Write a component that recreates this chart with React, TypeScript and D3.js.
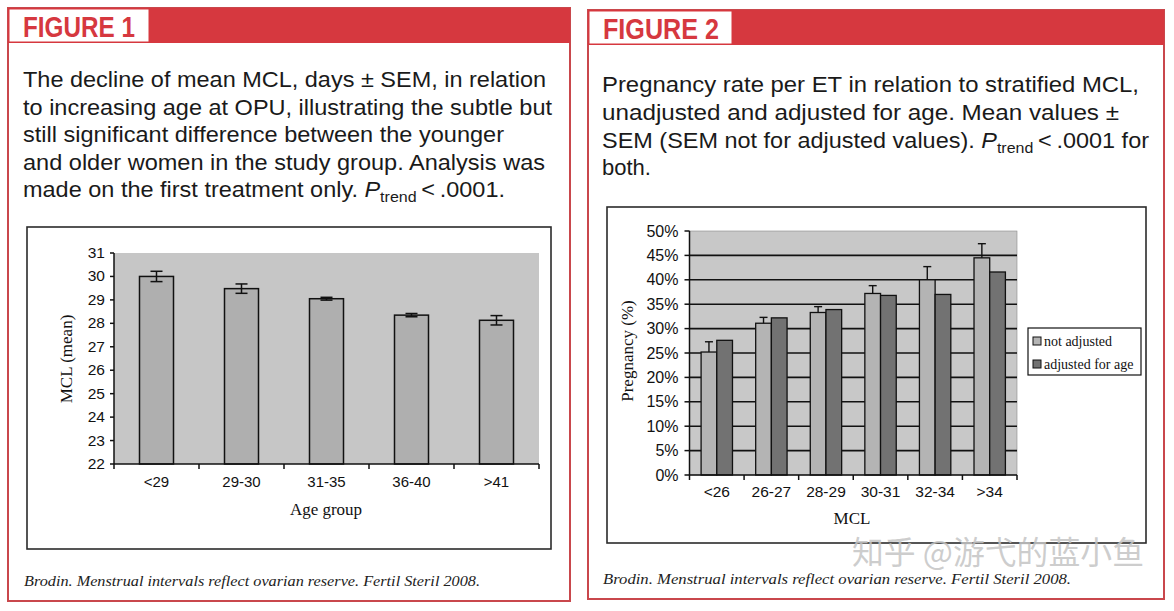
import React from 'react';
import * as d3 from 'd3';

// ---------- Data ----------
const fig1Caption = [
  'The decline of mean MCL, days \u00b1 SEM, in relation',
  'to increasing age at OPU, illustrating the subtle but',
  'still significant difference between the younger',
  'and older women in the study group. Analysis was',
  'made on the first treatment only. {P}\u2009<\u2009.0001.',
];
const fig2Caption = [
  'Pregnancy rate per ET in relation to stratified MCL,',
  'unadjusted and adjusted for age. Mean values \u00b1',
  'SEM (SEM not for adjusted values). {P}\u2009<\u2009.0001 for',
  'both.',
];
const footerText = 'Brodin. Menstrual intervals reflect ovarian reserve. Fertil Steril 2008.';
const watermark = '知乎 @游弋的蓝小鱼';

const ageGroups = ['<29', '29-30', '31-35', '36-40', '>41'];
const mclMean = [30.0, 29.48, 29.05, 28.35, 28.13];
const mclSem = [0.22, 0.2, 0.06, 0.07, 0.2];

const mclGroups = ['<26', '26-27', '28-29', '30-31', '32-34', '>34'];
const notAdjusted = [0.252, 0.311, 0.333, 0.372, 0.4, 0.445];
const adjustedForAge = [0.276, 0.322, 0.339, 0.368, 0.37, 0.416];
const notAdjustedSem = [0.021, 0.012, 0.012, 0.016, 0.027, 0.029];
const seriesNames = ['not adjusted', 'adjusted for age'];

// ---------- Styles ----------
const RED = '#d6383f';
const BORDER = '#c9474c';
const SANS = '"Liberation Sans", Arial, sans-serif';
const NARROW = '"Liberation Sans Narrow", "Liberation Sans", Arial, sans-serif';
const SERIF = '"Liberation Serif", "Times New Roman", serif';

function Caption({ lines, x, y0, dy, widths }: { lines: string[]; x: number; y0: number; dy: number; widths: number[] }) {
  return (
    <g fontFamily={SANS} fontSize={22} fill="#1a1a1a">
      {lines.map((ln, i) => {
        const parts = ln.split('{P}');
        const y = y0 + i * dy;
        if (parts.length === 1) {
          return (
            <text key={i} x={x} y={y} textLength={widths[i]} lengthAdjust="spacingAndGlyphs">
              {ln}
            </text>
          );
        }
        return (
          <text key={i} x={x} y={y} textLength={widths[i]} lengthAdjust="spacingAndGlyphs">
            {parts[0]}
            <tspan fontStyle="italic">P</tspan>
            <tspan fontSize={15} dy={5}>trend</tspan>
            <tspan dy={-5}>{parts[1]}</tspan>
          </text>
        );
      })}
    </g>
  );
}

function Panel({ x, y, w, h, boxW, label, labelW }: { x: number; y: number; w: number; h: number; boxW: number; label: string; labelW: number }) {
  return (
    <g>
      <rect x={x} y={y} width={w} height={h} fill="#fff" stroke={BORDER} strokeWidth={2} />
      <rect x={x} y={y} width={w} height={35} fill={RED} />
      <rect x={x + 1.5} y={y + 1.5} width={boxW} height={32} fill="#fff" />
      <text
        x={x + 15}
        y={y + 29}
        fontFamily={NARROW}
        fontWeight="bold"
        fontSize={29}
        fill={RED}
        textLength={labelW}
        lengthAdjust="spacingAndGlyphs"
      >
        {label}
      </text>
    </g>
  );
}

function Chart1() {
  const top = 253, bottom = 464, left = 114, right = 539;
  const y = d3.scaleLinear().domain([22, 31]).range([bottom, top]);
  const x = d3.scaleBand<string>().domain(ageGroups).range([left, right]).padding(0);
  const bw = x.bandwidth();
  const ticks = y.ticks(9);
  return (
    <g>
      <rect x={27} y={227} width={524} height={322} fill="#fff" stroke="#2b2b2b" strokeWidth={1.6} />
      <rect x={left} y={top} width={right - left} height={bottom - top} fill="#c6c6c6" />
      {ageGroups.map((g, i) => {
        const bx = (x(g) as number) + bw * 0.3;
        const cx = (x(g) as number) + bw / 2;
        const v = mclMean[i];
        const e = mclSem[i];
        return (
          <g key={g}>
            <rect x={bx} y={y(v)} width={bw * 0.4} height={bottom - y(v)} fill="#afafaf" stroke="#111" strokeWidth={1.5} />
            <line x1={cx} x2={cx} y1={y(v + e)} y2={y(v - e)} stroke="#111" strokeWidth={1.5} />
            <line x1={cx - 6} x2={cx + 6} y1={y(v + e)} y2={y(v + e)} stroke="#111" strokeWidth={1.5} />
            <line x1={cx - 6} x2={cx + 6} y1={y(v - e)} y2={y(v - e)} stroke="#111" strokeWidth={1.5} />
          </g>
        );
      })}
      {/* axes */}
      <line x1={left} x2={left} y1={top} y2={bottom} stroke="#111" strokeWidth={1.5} />
      <line x1={left} x2={right} y1={bottom} y2={bottom} stroke="#111" strokeWidth={1.5} />
      {ticks.map((t) => (
        <g key={t}>
          <line x1={left - 4} x2={left} y1={y(t)} y2={y(t)} stroke="#111" strokeWidth={1.5} />
          <text x={left - 9} y={y(t) + 5} textAnchor="end" fontFamily={SANS} fontSize={15.5} fill="#111">
            {t}
          </text>
        </g>
      ))}
      {ageGroups.concat(['']).map((g, i) => {
        const tx = i < ageGroups.length ? (x(g) as number) : right;
        return <line key={'t' + i} x1={tx} x2={tx} y1={bottom} y2={bottom + 5} stroke="#111" strokeWidth={1.5} />;
      })}
      {ageGroups.map((g) => (
        <text key={'l' + g} x={(x(g) as number) + bw / 2} y={487} textAnchor="middle" fontFamily={SANS} fontSize={15} fill="#111">
          {g}
        </text>
      ))}
      <text x={326} y={515} textAnchor="middle" fontFamily={SERIF} fontSize={17} fill="#111">
        Age group
      </text>
      <text transform="translate(72,359) rotate(-90)" textAnchor="middle" fontFamily={SERIF} fontSize={17} fill="#111">
        MCL (mean)
      </text>
    </g>
  );
}

function Chart2() {
  const top = 231, bottom = 475, left = 689.5, right = 1017;
  const y = d3.scaleLinear().domain([0, 0.5]).range([bottom, top]);
  const x = d3.scaleBand<string>().domain(mclGroups).range([left, right]).padding(0);
  const bw = x.bandwidth();
  const sub = d3.scaleBand<string>().domain(seriesNames).range([bw * 0.2125, bw * 0.7875]).padding(0);
  const ticks = y.ticks(10);
  const fmt = d3.format('.0%');
  const fills = ['#b4b4b4', '#727272'];
  return (
    <g>
      <rect x={607} y={207} width={539} height={336} fill="#fff" stroke="#2b2b2b" strokeWidth={1.6} />
      <rect x={left} y={top} width={right - left} height={bottom - top} fill="#c8c8c8" stroke="#8a8a8a" strokeWidth={0.6} />
      {ticks
        .filter((t) => t > 0 && t < 0.5)
        .map((t) => (
          <line key={'g' + t} x1={left} x2={right} y1={y(t)} y2={y(t)} stroke="#111" strokeWidth={1.6} />
        ))}
      {mclGroups.map((g, i) => {
        const x0 = x(g) as number;
        const vals = [notAdjusted[i], adjustedForAge[i]];
        const lx = x0 + (sub(seriesNames[0]) as number) + sub.bandwidth() / 2;
        const eTop = y(notAdjusted[i] + notAdjustedSem[i]);
        return (
          <g key={g}>
            {vals.map((v, j) => (
              <rect
                key={j}
                x={x0 + (sub(seriesNames[j]) as number)}
                y={y(v)}
                width={sub.bandwidth()}
                height={bottom - y(v)}
                fill={fills[j]}
                stroke="#111"
                strokeWidth={1.3}
              />
            ))}
            <line x1={lx} x2={lx} y1={y(notAdjusted[i])} y2={eTop} stroke="#111" strokeWidth={1.4} />
            <line x1={lx - 4} x2={lx + 4} y1={eTop} y2={eTop} stroke="#111" strokeWidth={1.4} />
          </g>
        );
      })}
      <line x1={left} x2={left} y1={top} y2={bottom} stroke="#111" strokeWidth={1.5} />
      <line x1={left} x2={right} y1={bottom} y2={bottom} stroke="#111" strokeWidth={1.5} />
      {ticks.map((t) => (
        <g key={t}>
          <line x1={left - 5} x2={left} y1={y(t)} y2={y(t)} stroke="#111" strokeWidth={1.5} />
          <text x={left - 11} y={y(t) + 5.5} textAnchor="end" fontFamily={SANS} fontSize={16} fill="#111">
            {fmt(t)}
          </text>
        </g>
      ))}
      {mclGroups.concat(['']).map((g, i) => {
        const tx = i < mclGroups.length ? (x(g) as number) : right;
        return <line key={'t' + i} x1={tx} x2={tx} y1={bottom} y2={bottom + 5} stroke="#111" strokeWidth={1.5} />;
      })}
      {mclGroups.map((g) => (
        <text key={'l' + g} x={(x(g) as number) + bw / 2} y={497} textAnchor="middle" fontFamily={SANS} fontSize={15.5} fill="#111">
          {g}
        </text>
      ))}
      <text x={852} y={524} textAnchor="middle" fontFamily={SERIF} fontSize={17} fill="#111">
        MCL
      </text>
      <text transform="translate(633,351) rotate(-90)" textAnchor="middle" fontFamily={SERIF} fontSize={17} fill="#111">
        Pregnancy (%)
      </text>
      {/* legend */}
      <rect x={1028} y={328} width={113} height={47} fill="#fff" stroke="#111" strokeWidth={1.2} />
      {seriesNames.map((s, j) => (
        <g key={s}>
          <rect x={1033} y={337 + j * 23} width={8} height={8} fill={fills[j]} stroke="#111" strokeWidth={1} />
          <text x={1044} y={345.5 + j * 23} fontFamily={SERIF} fontSize={14} fill="#111">
            {s}
          </text>
        </g>
      ))}
    </g>
  );
}

export default function App() {
  return (
    <svg
      width={1174}
      height={611}
      viewBox="0 0 1174 611"
      style={{ position: 'absolute', left: 0, top: 0, background: '#fff' }}
    >
      <rect width={1174} height={611} fill="#fff" />
      <Panel x={8} y={8} w={562} h={593} boxW={139} label="FIGURE 1" labelW={112} />
      <Panel x={588} y={10} w={576} h={589} boxW={142} label="FIGURE 2" labelW={116} />
      <Caption lines={fig1Caption} x={23} y0={87} dy={27.6} widths={[523, 529, 481, 522, 482]} />
      <Caption lines={fig2Caption} x={602} y0={92} dy={27.8} widths={[537, 517, 547, 49]} />
      <Chart1 />
      <Chart2 />
      <text x={24} y={586} fontFamily={SERIF} fontStyle="italic" fontSize={15} fill="#222" textLength={456} lengthAdjust="spacingAndGlyphs">
        {footerText}
      </text>
      <text x={603} y={584} fontFamily={SERIF} fontStyle="italic" fontSize={15} fill="#222" textLength={468} lengthAdjust="spacingAndGlyphs">
        {footerText}
      </text>
      <text x={852} y={564} fontFamily={'"Noto Sans CJK SC", sans-serif'} fontSize={32} fill="#c4c4c4" fillOpacity={0.85} textLength={292} lengthAdjust="spacingAndGlyphs">
        {watermark}
      </text>
    </svg>
  );
}
